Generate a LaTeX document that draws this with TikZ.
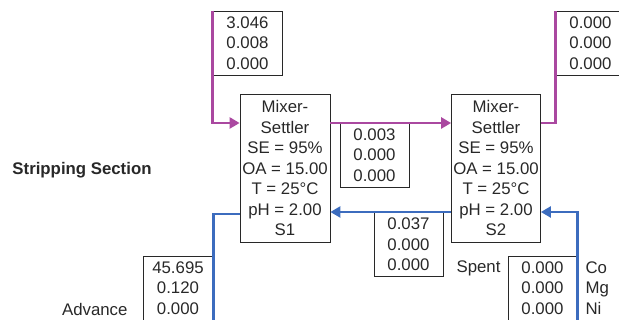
\documentclass[tikz,border=0pt]{standalone}
\usepackage{fontspec}
\setmainfont{Liberation Sans}
\usepackage{tikz}
\usetikzlibrary{arrows.meta,positioning}
\definecolor{orgc}{RGB}{170,72,160}
\definecolor{aqc}{RGB}{60,108,190}
\definecolor{ink}{RGB}{40,40,40}

\begin{document}
\begin{tikzpicture}[x=1pt, y=-1pt,
  every node/.style={font=\fontsize{16.8}{20.5}\selectfont, text=ink},
  unit/.style={draw=ink, line width=0.8pt, minimum width=90pt, minimum height=148pt, inner sep=0pt, align=center},
  strm/.style={draw=ink, line width=0.8pt, minimum width=69pt, minimum height=64pt, inner sep=0pt, align=center},
  org/.style={orgc, line width=2.8pt, -{Triangle[length=10pt,width=11pt]}},
  aq/.style={aqc, line width=2.8pt, -{Triangle[length=10pt,width=11pt]}}]
  \clip (0,0) rectangle (619,320);
  % mixer-settlers
  \node[unit] (s1) at (285,168) {Mixer-\\Settler\\SE = 95\%\\OA = 15.00\\T = 25\textdegree C\\pH = 2.00\\S1};
  \node[unit, minimum width=89pt] (s2) at (496,168) {Mixer-\\Settler\\SE = 95\%\\OA = 15.00\\T = 25\textdegree C\\pH = 2.00\\S2};
  % stream compositions
  \node[strm] (f1) at (247.5,43) {3.046\\0.008\\0.000};
  \node[strm] (f2) at (590.5,43) {0.000\\0.000\\0.000};
  \node[strm] (m1) at (374.5,155) {0.003\\0.000\\0.000};
  \node[strm] (m2) at (408.5,244.5) {0.037\\0.000\\0.000};
  \node[strm] (sp) at (542.5,288) {0.000\\0.000\\0.000};
  \node[strm, minimum width=70pt] (ad) at (178,288) {45.695\\0.120\\0.000};
  % labels
  \node[font=\fontsize{16.8}{20.5}\selectfont\bfseries] (sec) at (82,170) {Stripping Section};
  \node[anchor=east] (adv) at (131,309) {Advance};
  \node[anchor=east] (spt) at (504,268) {Spent};
  \node[anchor=west, align=left] (met) at (582,288) {Co\\Mg\\Ni};
  % organic
  \draw[org] (f1.north west) |- ([yshift=45pt]s1.west);
  \draw[org] ([yshift=45pt]s1.east) -- ([yshift=45pt]s2.west);
  \draw[org, -] ([yshift=45pt]s2.east) -| (f2.north west);
  % aqueous
  \draw[aq] (sp.south east) |- ([yshift=-44pt]s2.east);
  \draw[aq] ([yshift=-44pt]s2.west) -- ([yshift=-44pt]s1.east);
  \draw[aq, -] ([yshift=-46pt]s1.west) -| (ad.south east);
\end{tikzpicture}
\end{document}
